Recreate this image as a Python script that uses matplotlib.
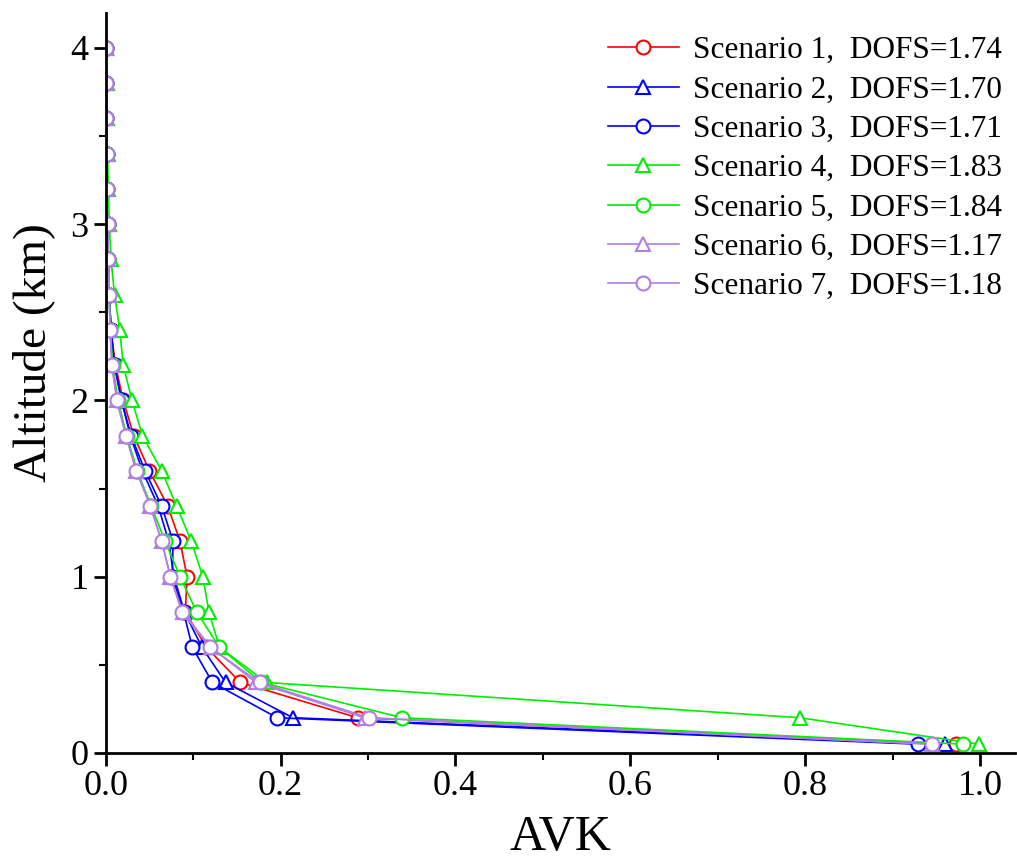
import numpy as np
import matplotlib
matplotlib.use("Agg")
import matplotlib.pyplot as plt
from matplotlib.ticker import MultipleLocator

plt.rcParams["font.family"] = ["Liberation Serif", "DejaVu Serif"]

# --- Altitudes (km) ---
alt = [0.05, 0.2, 0.4, 0.6, 0.8, 1.0, 1.2, 1.4, 1.6, 1.8, 2.0,
       2.2, 2.4, 2.6, 2.8, 3.0, 3.2, 3.4, 3.6, 3.8, 4.0]

# --- AVK par scénario ---
s1 = [0.973, 0.288, 0.154, 0.115, 0.091, 0.093, 0.085, 0.071, 0.050, 0.032, 0.020,
      0.011, 0.006, 0.004, 0.003, 0.002, 0.001, 0.001, 0.0005, 0.0003, 0.0002]
s2 = [0.960, 0.214, 0.137, 0.110, 0.090, 0.078, 0.072, 0.060, 0.042, 0.028, 0.018,
      0.010, 0.006, 0.004, 0.003, 0.002, 0.001, 0.001, 0.0005, 0.0003, 0.0002]
s3 = [0.929, 0.196, 0.122, 0.099, 0.089, 0.076, 0.077, 0.064, 0.045, 0.029, 0.018,
      0.010, 0.006, 0.004, 0.003, 0.002, 0.001, 0.001, 0.0005, 0.0003, 0.0002]
s4 = [0.999, 0.794, 0.184, 0.130, 0.118, 0.111, 0.098, 0.081, 0.064, 0.042, 0.030,
      0.020, 0.016, 0.010, 0.006, 0.004, 0.003, 0.002, 0.001, 0.001, 0.0005]
s5 = [0.981, 0.339, 0.178, 0.130, 0.104, 0.085, 0.068, 0.052, 0.036, 0.024, 0.014,
      0.008, 0.005, 0.004, 0.003, 0.002, 0.001, 0.001, 0.0005, 0.0003, 0.0002]
s6 = [0.945, 0.296, 0.172, 0.120, 0.088, 0.074, 0.064, 0.051, 0.035, 0.023, 0.013,
      0.007, 0.005, 0.004, 0.003, 0.002, 0.001, 0.001, 0.0005, 0.0003, 0.0002]
s7 = [0.945, 0.301, 0.176, 0.119, 0.087, 0.074, 0.064, 0.051, 0.035, 0.023, 0.0126,
      0.007, 0.005, 0.004, 0.003, 0.002, 0.001, 0.001, 0.0005, 0.0003, 0.0002]

labels = ["Scenario 1,  DOFS=1.74", "Scenario 2,  DOFS=1.70", "Scenario 3,  DOFS=1.71",
          "Scenario 4,  DOFS=1.83", "Scenario 5,  DOFS=1.84", "Scenario 6,  DOFS=1.17",
          "Scenario 7,  DOFS=1.18"]
colors = ["#FF0000", "#0000FF", "#0000FF", "#00EE00", "#00EE00", "#B07FE0", "#B07FE0"]
markers = ["o", "^", "o", "^", "o", "^", "o"]
series = [s1, s2, s3, s4, s5, s6, s7]

fig = plt.figure(figsize=(10.17, 8.68), dpi=100)
ax = fig.add_axes([0.104, 0.1325, 0.894, 0.853])

for vals, c, m, lab in zip(series, colors, markers, labels):
    ax.plot(vals, alt, color=c, marker=m, markersize=10, markerfacecolor="white",
            markeredgecolor=c, markeredgewidth=1.5, linewidth=1.2, label=lab)

ax.set_xlim(0, 1.04)
ax.set_ylim(0, 4.2)
ax.xaxis.set_major_locator(MultipleLocator(0.2))
ax.xaxis.set_minor_locator(MultipleLocator(0.1))
ax.yaxis.set_major_locator(MultipleLocator(1))
ax.yaxis.set_minor_locator(MultipleLocator(0.5))
ax.xaxis.set_major_formatter(plt.FormatStrFormatter("%.1f"))

for s in ["top", "right"]:
    ax.spines[s].set_visible(False)
for s in ["left", "bottom"]:
    ax.spines[s].set_linewidth(2)

ax.tick_params(which="major", direction="out", length=9, width=2, labelsize=26)
ax.tick_params(which="minor", direction="out", length=5, width=1.5)

ax.set_xlabel("AVK", fontsize=36, labelpad=8)
ax.set_ylabel("Altitude (km)", fontsize=34)
ax.yaxis.set_label_coords(-0.056, 0.541)

ax.legend(loc="upper right", frameon=False, fontsize=22.5, handlelength=2.3,
          handletextpad=0.45, labelspacing=0.33, borderaxespad=0.0,
          bbox_to_anchor=(1.0, 0.985))

plt.savefig("out.png", dpi=100)
